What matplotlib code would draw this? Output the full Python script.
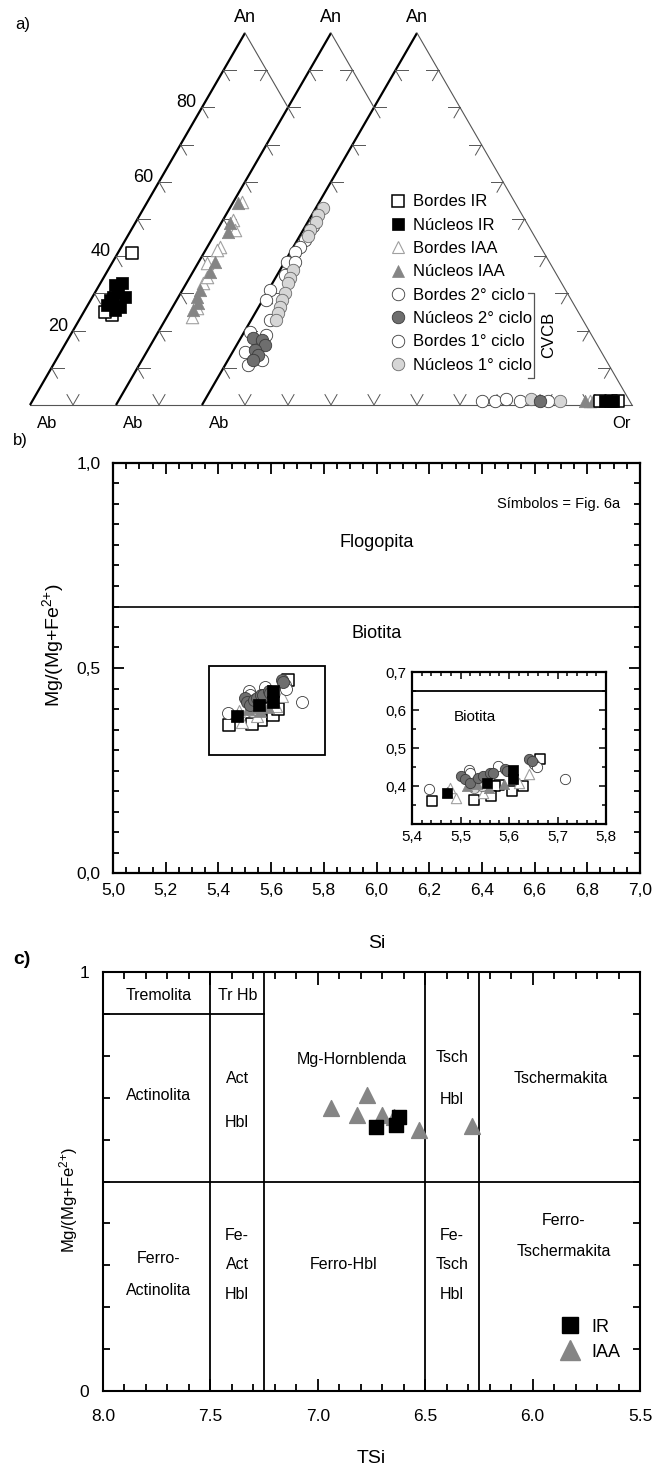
import numpy as np
import matplotlib.pyplot as plt
from matplotlib.ticker import MultipleLocator, FixedLocator, FuncFormatter
from matplotlib.lines import Line2D
from matplotlib.patches import Rectangle

plt.rcParams['font.family'] = ['Liberation Sans', 'DejaVu Sans']
plt.rcParams['mathtext.fontset'] = 'custom'
plt.rcParams['mathtext.rm'] = 'Liberation Sans'
plt.rcParams['mathtext.it'] = 'Liberation Sans:italic'

# ---------------- a) feldespatos: An y Or en % ----------------
# triangulo 1 (IR)
nuc_ir_an = [32.3, 32.8, 29.0, 29.0, 26.9, 25.5, 26.3, 28.2, 30.4]
nuc_ir_or = [3.6, 5.0, 7.6, 4.8, 4.5, 7.0, 7.8, 4.5, 5.3]
bor_ir_an = [40.9, 24.2, 25.0]
bor_ir_or = [3.3, 7.0, 4.9]
# triangulo 2 (IAA)
nuc_iaa_an = [54.3, 48.9, 46.5, 38.4, 35.8, 30.9, 29.0, 27.4, 25.5]
nuc_iaa_or = [1.2, 2.1, 2.8, 3.8, 4.0, 4.1, 4.3, 5.4, 5.2]
bor_iaa_an = [54.6, 49.7, 47.0, 42.5, 41.7, 38.2, 32.8, 34.4, 26.1, 23.7]
bor_iaa_or = [2.0, 2.4, 4.2, 2.9, 2.7, 2.1, 3.8, 4.0, 5.8, 5.8]
# triangulo 3 (CVCB)
nuc1_an = [53.0, 51.1, 49.2, 47.0, 45.4, 36.3, 34.1, 32.8, 30.1, 28.2, 26.3, 24.7, 22.9]
nuc1_or = [1.7, 1.4, 1.9, 1.6, 1.9, 3.0, 3.4, 3.6, 4.3, 4.5, 5.0, 5.3, 5.8]
bor1_an = [48.1, 44.4, 42.5, 41.1, 38.4, 30.9, 35.0, 22.9, 38.4, 28.2]
bor1_or = [1.8, 1.8, 1.6, 1.1, 0.6, 0.4, 1.8, 4.4, 2.4, 0.8]
nuc2_an = [18.0, 17.5, 16.1, 14.8, 13.4, 12.1]
nuc2_or = [2.9, 5.2, 6.6, 4.9, 6.3, 5.8]
bor2_an = [14.3, 19.6, 18.8, 12.1, 10.8]
bor2_or = [2.9, 1.4, 5.5, 7.9, 5.3]
# feldespato potasico (sobre la base, en el triangulo 3)
kf_bor_or = [64.6, 67.6, 70.0, 73.5, 80.0]
kf_bor_an = [1.0, 1.0, 1.5, 1.0, 1.0]
kf_nuc1_or = [75.8, 82.8]
kf_nuc1_an = [1.5, 1.0]
kf_nuc2_or = [78.1]
kf_nuc2_an = [1.0]
kf_iaan_or = [88.6, 90.4]
kf_iaan_an = [1.0, 1.0]
kf_iaab_or = [89.7]
kf_iaab_an = [1.0]
kf_irn_or = [93.2, 95.1]
kf_irn_an = [1.0, 1.0]
kf_irb_or = [92.1, 94.6, 96.2]
kf_irb_an = [1.0, 1.0, 1.0]

# ---------------- b) biotitas: Si vs Mg/(Mg+Fe2+) ----------------
b_bor_si = [5.436, 5.517, 5.520, 5.578, 5.652, 5.657, 5.716]
b_bor_mg = [0.391, 0.443, 0.435, 0.453, 0.458, 0.449, 0.418]
b_nuc2_si = [5.500, 5.510, 5.520, 5.537, 5.547, 5.561, 5.568, 5.592, 5.596, 5.642, 5.647]
b_nuc2_mg = [0.427, 0.418, 0.409, 0.422, 0.427, 0.435, 0.434, 0.444, 0.440, 0.471, 0.467]
b_nuc1_si = [5.527, 5.544]
b_nuc1_mg = [0.395, 0.400]
b_irn_si = [5.472, 5.608, 5.608, 5.554]
b_irn_mg = [0.382, 0.443, 0.418, 0.409]
b_irb_si = [5.441, 5.664, 5.580, 5.571, 5.563, 5.606, 5.628, 5.527]
b_irb_mg = [0.360, 0.471, 0.402, 0.400, 0.373, 0.386, 0.400, 0.364]
b_iaan_si = [5.513, 5.534, 5.558, 5.589, 5.472]
b_iaan_mg = [0.400, 0.404, 0.395, 0.404, 0.385]
b_iaab_si = [5.479, 5.491, 5.642, 5.547, 5.620]
b_iaab_mg = [0.395, 0.369, 0.431, 0.382, 0.407]
b_limite = 0.65
b_recuadro = (5.365, 0.288, 5.805, 0.506)  # x0, y0, x1, y1

# ---------------- c) anfiboles: TSi vs Mg/(Mg+Fe2+) ----------------
c_ir_tsi = [6.729, 6.636, 6.622]
c_ir_mg = [0.630, 0.635, 0.654]
c_iaa_tsi = [6.939, 6.770, 6.816, 6.700, 6.646, 6.530, 6.284]
c_iaa_mg = [0.675, 0.706, 0.659, 0.659, 0.654, 0.623, 0.632]
c_verticales = [7.5, 7.25, 6.5, 6.25]
c_mg_limite = 0.5
c_trem_limite = 0.9
c_campos = [
    (7.74, 0.945, 'Tremolita'), (7.375, 0.945, 'Tr Hb'),
    (7.74, 0.706, 'Actinolita'), (7.375, 0.747, 'Act'), (7.375, 0.642, 'Hbl'),
    (6.84, 0.79, 'Mg-Hornblenda'), (6.375, 0.795, 'Tsch'), (6.375, 0.695, 'Hbl'),
    (5.867, 0.747, 'Tschermakita'),
    (7.74, 0.317, 'Ferro-'), (7.74, 0.241, 'Actinolita'),
    (7.375, 0.372, 'Fe-'), (7.375, 0.301, 'Act'), (7.375, 0.231, 'Hbl'),
    (6.878, 0.301, 'Ferro-Hbl'),
    (6.375, 0.372, 'Fe-'), (6.375, 0.301, 'Tsch'), (6.375, 0.231, 'Hbl'),
    (5.857, 0.408, 'Ferro-'), (5.857, 0.332, 'Tschermakita'),
]

# estilos de simbolos
st = {
    'irb': dict(marker='s', facecolors='white', edgecolors='black', linewidths=1.1),
    'irn': dict(marker='s', facecolors='black', edgecolors='black', linewidths=0.5),
    'iaab': dict(marker='^', facecolors='white', edgecolors='#a0a0a0', linewidths=0.8),
    'iaan': dict(marker='^', facecolors='#858585', edgecolors='#858585', linewidths=0.5),
    'bor2': dict(marker='o', facecolors='white', edgecolors='#3a3a3a', linewidths=0.6),
    'nuc2': dict(marker='o', facecolors='#6e6e6e', edgecolors='#3a3a3a', linewidths=0.6),
    'bor1': dict(marker='o', facecolors='white', edgecolors='#3a3a3a', linewidths=0.6),
    'nuc1': dict(marker='o', facecolors='#d6d6d6', edgecolors='#6a6a6a', linewidths=0.6),
}

W, H = 652, 1469
fig = plt.figure(figsize=(W / 100, H / 100), dpi=100)


def caja(l, t, r, b):
    return [l / W, 1 - b / H, (r - l) / W, (b - t) / H]


coma = FuncFormatter(lambda v, p: f'{v:.1f}'.replace('.', ','))
etiqueta_mg = r'Mg/(Mg+Fe$^{2{+}}$)'

# ================= a) =================
ax = fig.add_axes(caja(30, 33, 632, 405))
ax.set_xlim(0, 1.4)
ax.set_ylim(0, 1)
ax.axis('off')

offs = [0.0, 0.2, 0.4]
gris = '#555555'


def tern(an, orr, off):
    an = np.asarray(an) / 100.0
    orr = np.asarray(orr) / 100.0
    return off + orr + an / 2, an


L = 0.028
# base
ax.plot([0, offs[-1] + 1], [0, 0], color=gris, lw=0.8, clip_on=False)
for off in offs:
    ax.plot([off, off + 0.5], [0, 1], color='black', lw=1.6, clip_on=False, solid_capstyle='butt')
    for a in np.arange(1, 10) / 10:
        x0 = off + a / 2
        ax.plot([x0, x0 + L], [a, a], color=gris, lw=0.7)
        ax.plot([x0, x0 + L / 2], [a, a - L], color=gris, lw=0.7)
# lados derechos
for i, off in enumerate(offs):
    a_fin = 0.0 if i == len(offs) - 1 else 1 - (offs[i + 1] - off)
    ax.plot([off + 0.5, off + 1 - a_fin / 2], [1, a_fin], color=gris, lw=0.8, clip_on=False)
    for a in np.arange(1, 10) / 10:
        if a <= a_fin:
            continue
        x0 = off + 1 - a / 2
        ax.plot([x0, x0 - L], [a, a], color=gris, lw=0.7)
        ax.plot([x0, x0 - L / 2], [a, a - L], color=gris, lw=0.7)
# marcas de la base
for k in range(1, 14):
    xb = k / 10
    if any(abs(xb - o) < 1e-6 for o in offs):
        continue
    ax.plot([xb - L / 2, xb, xb + L / 2], [L, 0, L], color=gris, lw=0.7)

for v in [80, 60, 40, 20]:
    ax.text(v / 200 - 0.012, v / 100 + 0.012, str(v), fontsize=13, ha='right', va='center')
for off in offs:
    ax.text(off + 0.5, 1.042, 'An', fontsize=13, ha='center', va='center')
    ax.text(off + 0.04, -0.03, 'Ab', fontsize=12, ha='center', va='top')
ax.text(offs[-1] + 0.975, -0.03, 'Or', fontsize=12, ha='center', va='top')

sa = dict(s=80, zorder=3, clip_on=False)
ax.scatter(*tern(bor_ir_an, bor_ir_or, offs[0]), **st['irb'], **sa)
ax.scatter(*tern(nuc_ir_an, nuc_ir_or, offs[0]), **st['irn'], **sa)
ax.scatter(*tern(bor_iaa_an, bor_iaa_or, offs[1]), **st['iaab'], **sa)
ax.scatter(*tern(nuc_iaa_an, nuc_iaa_or, offs[1]), **st['iaan'], **sa)
ax.scatter(*tern(bor1_an, bor1_or, offs[2]), **st['bor1'], **sa)
ax.scatter(*tern(nuc1_an, nuc1_or, offs[2]), **st['nuc1'], **sa)
ax.scatter(*tern(bor2_an, bor2_or, offs[2]), **st['bor2'], **sa)
ax.scatter(*tern(nuc2_an, nuc2_or, offs[2]), **st['nuc2'], **sa)
ax.scatter(*tern(kf_bor_an, kf_bor_or, offs[2]), **st['bor1'], **sa)
ax.scatter(*tern(kf_nuc1_an, kf_nuc1_or, offs[2]), **st['nuc1'], **sa)
ax.scatter(*tern(kf_nuc2_an, kf_nuc2_or, offs[2]), **st['nuc2'], **sa)
ax.scatter(*tern(kf_iaab_an, kf_iaab_or, offs[2]), **st['iaab'], **sa)
ax.scatter(*tern(kf_iaan_an, kf_iaan_or, offs[2]), **st['iaan'], **sa)
ax.scatter(*tern(kf_irb_an, kf_irb_or, offs[2]), **st['irb'], **sa)
ax.scatter(*tern(kf_irn_an, kf_irn_or, offs[2]), **st['irn'], **sa)

# leyenda
etiquetas = ['Bordes IR', 'Núcleos IR', 'Bordes IAA', 'Núcleos IAA',
             'Bordes 2° ciclo', 'Núcleos 2° ciclo', 'Bordes 1° ciclo', 'Núcleos 1° ciclo']
claves = ['irb', 'irn', 'iaab', 'iaan', 'bor2', 'nuc2', 'bor1', 'nuc1']
manejos = []
for k in claves:
    d = st[k]
    manejos.append(Line2D([], [], ls='none', marker=d['marker'], markersize=9,
                          markerfacecolor=d['facecolors'], markeredgecolor=d['edgecolors'],
                          markeredgewidth=d['linewidths']))
ax.legend(manejos, etiquetas, loc='upper left', bbox_to_anchor=(0.5997, 0.566),
          frameon=False, fontsize=12, handlelength=0.8, handletextpad=0.5,
          labelspacing=0.5, borderpad=0, borderaxespad=0)
# llave CVCB
ax.plot([1.158, 1.172, 1.172, 1.158], [0.301, 0.301, 0.073, 0.073], color=gris, lw=0.9, clip_on=False)
ax.text(1.205, 0.188, 'CVCB', rotation=90, fontsize=12, ha='center', va='center')

fig.text(23 / W, 1 - 24 / H, 'a)', fontsize=12, ha='center', va='center')

# ================= b) =================
bx = fig.add_axes(caja(113, 463, 640, 873))
bx.set_xlim(5.0, 7.0)
bx.set_ylim(0, 1)
bx.xaxis.set_major_locator(MultipleLocator(0.2))
bx.xaxis.set_minor_locator(MultipleLocator(0.05))
bx.yaxis.set_major_locator(MultipleLocator(0.5))
bx.yaxis.set_minor_locator(MultipleLocator(0.05))
bx.xaxis.set_major_formatter(coma)
bx.yaxis.set_major_formatter(coma)
bx.tick_params(which='both', direction='in', top=True, right=True, labelsize=12.5, width=1.3)
bx.tick_params(which='major', length=8)
bx.tick_params(axis='x', which='major', pad=7)
bx.tick_params(axis='y', which='major', pad=9)
bx.tick_params(which='minor', length=4)
for s in bx.spines.values():
    s.set_linewidth(1.6)
bx.axhline(b_limite, color='black', lw=1.2)
bx.text(6.0, 0.805, 'Flogopita', fontsize=13, ha='center', va='center')
bx.text(6.0, 0.585, 'Biotita', fontsize=13, ha='center', va='center')
bx.text(6.69, 0.90, 'Símbolos = Fig. 6a', fontsize=10.5, ha='center', va='center')
x0, y0, x1, y1 = b_recuadro
bx.add_patch(Rectangle((x0, y0), x1 - x0, y1 - y0, fill=False, ec='black', lw=1.3))
bx.set_ylabel(etiqueta_mg, fontsize=14)
bx.yaxis.set_label_coords(-0.09, 0.556)
bx.set_xlabel('Si', fontsize=14)
bx.xaxis.set_label_coords(0.5, -0.15)


def biotitas(a, s):
    a.scatter(b_irb_si, b_irb_mg, s=s, zorder=3, **st['irb'])
    a.scatter(b_iaab_si, b_iaab_mg, s=s, zorder=3, **st['iaab'])
    a.scatter(b_bor_si, b_bor_mg, s=s, zorder=3, **st['bor1'])
    a.scatter(b_nuc1_si, b_nuc1_mg, s=s, zorder=4, **st['nuc1'])
    a.scatter(b_iaan_si, b_iaan_mg, s=s, zorder=4, **st['iaan'])
    a.scatter(b_nuc2_si, b_nuc2_mg, s=s, zorder=4, **st['nuc2'])
    a.scatter(b_irn_si, b_irn_mg, s=s, zorder=5, **st['irn'])


biotitas(bx, 75)

ix = fig.add_axes(caja(412, 672, 606, 824))
ix.set_xlim(5.4, 5.8)
ix.set_ylim(0.3, 0.7)
ix.xaxis.set_major_locator(MultipleLocator(0.1))
ix.xaxis.set_minor_locator(MultipleLocator(0.02))
ix.yaxis.set_major_locator(FixedLocator([0.4, 0.5, 0.6, 0.7]))
ix.yaxis.set_minor_locator(MultipleLocator(0.05))
ix.xaxis.set_major_formatter(coma)
ix.yaxis.set_major_formatter(coma)
ix.tick_params(which='both', direction='in', top=True, right=True, labelsize=11, width=1.1)
ix.tick_params(which='major', length=5, pad=4)
ix.tick_params(which='minor', length=3)
for s in ix.spines.values():
    s.set_linewidth(1.6)
ix.axhline(b_limite, color='black', lw=1.3)
ix.text(5.53, 0.582, 'Biotita', fontsize=11, ha='center', va='center')
biotitas(ix, 55)

fig.text(20 / W, 1 - 440 / H, 'b)', fontsize=12, ha='center', va='center')

# ================= c) =================
cx = fig.add_axes(caja(103, 972, 640, 1391))
cx.set_xlim(8.0, 5.5)
cx.set_ylim(0, 1)
cx.xaxis.set_major_locator(MultipleLocator(0.5))
cx.xaxis.set_minor_locator(MultipleLocator(0.1))
cx.xaxis.set_major_formatter(FuncFormatter(lambda v, p: f'{v:.1f}'))
cx.yaxis.set_major_locator(FixedLocator([0, 1]))
cx.yaxis.set_minor_locator(MultipleLocator(0.1))
cx.yaxis.set_major_formatter(FuncFormatter(lambda v, p: f'{v:.0f}'))
cx.tick_params(which='both', direction='in', top=True, right=True, labelsize=12.5, width=1.3)
cx.tick_params(axis='x', which='major', length=9, pad=13)
cx.tick_params(axis='y', which='major', length=5, pad=10)
cx.tick_params(which='minor', length=5)
for s in cx.spines.values():
    s.set_linewidth(1.5)
for v in c_verticales:
    cx.axvline(v, color='black', lw=1.3)
cx.axhline(c_mg_limite, color='black', lw=1.3)
cx.plot([8.0, 7.25], [c_trem_limite, c_trem_limite], color='black', lw=1.3)
for xt, yt, tt in c_campos:
    cx.text(xt, yt, tt, fontsize=11.5, ha='center', va='center')
cx.scatter(c_iaa_tsi, c_iaa_mg, marker='^', s=130, color='#858585', zorder=3)
cx.scatter(c_ir_tsi, c_ir_mg, marker='s', s=110, color='black', zorder=4)
hc = [Line2D([], [], ls='none', marker='s', markersize=12, color='black'),
      Line2D([], [], ls='none', marker='^', markersize=14, color='#858585')]
cx.legend(hc, ['IR', 'IAA'], loc='upper left', bbox_to_anchor=(0.853, 0.173), frameon=False,
          fontsize=13, handlelength=1.0, handletextpad=0.7, labelspacing=0.45,
          borderpad=0, borderaxespad=0)
cx.set_ylabel(etiqueta_mg, fontsize=12)
cx.yaxis.set_label_coords(-0.043, 0.456)
cx.set_xlabel('TSi', fontsize=14)
cx.xaxis.set_label_coords(0.5, -0.14)

fig.text(22 / W, 1 - 960 / H, 'c)', fontsize=14, fontweight='bold', ha='center', va='center')

fig.savefig('out.png', dpi=100)
